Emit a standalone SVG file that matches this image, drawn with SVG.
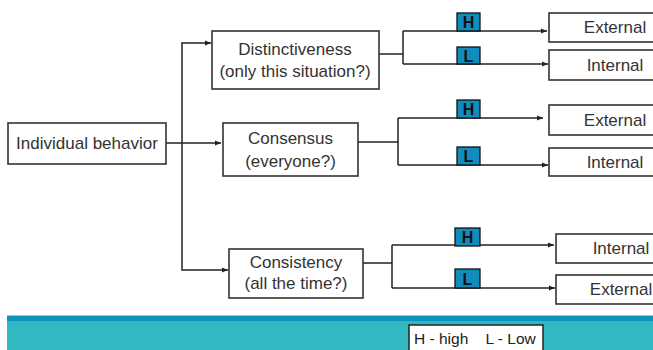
<svg xmlns="http://www.w3.org/2000/svg" width="653" height="350" viewBox="0 0 653 350">
<defs>
<marker id="arr" viewBox="0 0 6 6" refX="6" refY="3" markerWidth="6" markerHeight="6" markerUnits="userSpaceOnUse" orient="auto">
<path d="M0 0.5 L6 3 L0 5.5 Z" fill="#222"/>
</marker>
<style>
.box{fill:#fff;stroke:#333;stroke-width:1.6}
.t{font-family:"Liberation Sans",Arial,sans-serif;font-size:17px;fill:#333;text-anchor:middle}
.c{fill:none;stroke:#222;stroke-width:1.5}
.badge{fill:#128bbd;stroke:#111;stroke-width:1.3}
.bt{font-family:"Liberation Sans",Arial,sans-serif;font-size:16px;font-weight:bold;fill:#111;text-anchor:middle}
.lg{font-family:"Liberation Sans",Arial,sans-serif;font-size:15.5px;fill:#222}
</style>
</defs>
<rect x="0" y="0" width="653" height="350" fill="#fff"/>

<g id="footer">
<rect x="7" y="315" width="646" height="35" fill="#33b8c2"/>
<rect x="7" y="315" width="646" height="1" fill="#8fd3e0"/>
<rect x="7" y="316" width="646" height="5" fill="#0a93bd"/>
<rect x="409" y="325" width="134" height="30" fill="#fff" stroke="#222" stroke-width="1.5"/>
<text class="lg" x="414" y="344" xml:space="preserve">H - high    L - Low</text>
</g>

<g id="connectors">
<path class="c" d="M166 143 H221" marker-end="url(#arr)"/>
<path class="c" d="M182 143 V43 H211" marker-end="url(#arr)"/>
<path class="c" d="M182 143 V270 H228" marker-end="url(#arr)"/>
<path class="c" d="M379 54 H403"/>
<path class="c" d="M403 31 V64"/>
<path class="c" d="M403 31 H547" marker-end="url(#arr)"/>
<path class="c" d="M403 64 H548" marker-end="url(#arr)"/>
<path class="c" d="M358 142 H398"/>
<path class="c" d="M398 118 V165"/>
<path class="c" d="M398 118 H543" marker-end="url(#arr)"/>
<path class="c" d="M398 165 H548" marker-end="url(#arr)"/>
<path class="c" d="M363 263 H392"/>
<path class="c" d="M392 245 V288"/>
<path class="c" d="M392 245 H554" marker-end="url(#arr)"/>
<path class="c" d="M392 288 H555" marker-end="url(#arr)"/>
</g>

<g id="badges">
<rect class="badge" x="457" y="13" width="23" height="18"/><text class="bt" x="468.5" y="28">H</text>
<rect class="badge" x="457" y="47" width="23" height="17"/><text class="bt" x="468.5" y="61.5">L</text>
<rect class="badge" x="457" y="100" width="23" height="18"/><text class="bt" x="468.5" y="115">H</text>
<rect class="badge" x="457" y="147" width="23" height="18"/><text class="bt" x="468.5" y="162">L</text>
<rect class="badge" x="455" y="228" width="25" height="18"/><text class="bt" x="467.5" y="243">H</text>
<rect class="badge" x="455" y="269" width="25" height="19"/><text class="bt" x="467.5" y="284.5">L</text>
</g>

<g id="individual">
<rect class="box" x="8" y="123" width="158" height="41"/>
<text class="t" x="87" y="149">Individual behavior</text>
</g>
<g id="distinctiveness">
<rect class="box" x="212" y="31" width="167" height="58"/>
<text class="t" x="295" y="55">Distinctiveness</text>
<text class="t" x="295" y="77">(only this situation?)</text>
</g>
<g id="consensus">
<rect class="box" x="223" y="123" width="135" height="53"/>
<text class="t" x="290.5" y="144">Consensus</text>
<text class="t" x="290.5" y="167">(everyone?)</text>
</g>
<g id="consistency">
<rect class="box" x="229" y="249" width="134" height="49"/>
<text class="t" x="296" y="268">Consistency</text>
<text class="t" x="296" y="289">(all the time?)</text>
</g>

<g id="d-external">
<rect class="box" x="549" y="13" width="132" height="29"/>
<text class="t" x="615" y="33">External</text>
</g>
<g id="d-internal">
<rect class="box" x="549" y="50" width="132" height="30"/>
<text class="t" x="615" y="71">Internal</text>
</g>
<g id="c-external">
<rect class="box" x="549" y="105" width="132" height="30"/>
<text class="t" x="615" y="126">External</text>
</g>
<g id="c-internal">
<rect class="box" x="549" y="148" width="132" height="28"/>
<text class="t" x="615" y="168">Internal</text>
</g>
<g id="s-internal">
<rect class="box" x="556" y="234" width="132" height="29"/>
<text class="t" x="621" y="254">Internal</text>
</g>
<g id="s-external">
<rect class="box" x="556" y="275" width="132" height="29"/>
<text class="t" x="621" y="295">External</text>
</g>
</svg>
